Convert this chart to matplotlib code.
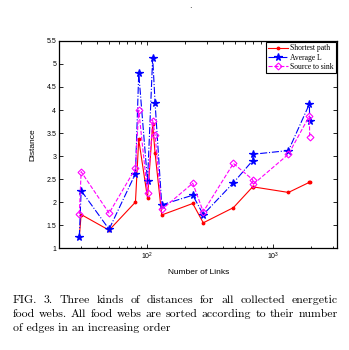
import matplotlib.pyplot as plt
from matplotlib.ticker import LogLocator, NullFormatter, MultipleLocator, FormatStrFormatter

# food webs sorted by number of links
links = [29, 30, 50, 81, 86, 101, 111, 116, 131, 231, 280, 486, 690, 700, 1330, 1950, 1960]
shortest = [1.24, 1.73, 1.39, 2.00, 3.36, 2.09, 3.69, 3.06, 1.72, 1.97, 1.55, 1.88, 2.33, 2.33, 2.21, 2.43, 2.43]
avg_l = [1.24, 2.25, 1.41, 2.62, 4.80, 2.45, 5.14, 4.15, 1.94, 2.15, 1.73, 2.42, 2.90, 3.04, 3.12, 4.13, 3.77]
src_sink = [1.74, 2.66, 1.76, 2.73, 4.00, 2.19, 3.77, 3.46, 1.84, 2.41, 1.79, 2.84, 2.49, 2.39, 3.04, 3.87, 3.42]

caption = ["FIG. 3.  Three kinds of distances for all collected energetic",
           "food webs. All food webs are sorted according to their number",
           "of edges in an increasing order"]

fig = plt.figure(figsize=(3.49, 3.50), dpi=100)
ax = fig.add_axes([0.169, 0.291, 0.7975, 0.592])

ax.plot(links, shortest, '-', color='red', marker='.', ms=3.5, lw=0.8, label='Shortest path')
ax.plot(links, avg_l, '-.', color='blue', marker='*', ms=5.5, mew=0.9, lw=0.8, label='Average L')
ax.plot(links, src_sink, '--', color='magenta', marker='D', ms=3.5, mfc='none', mew=0.8, lw=0.8,
        label='Source to sink')

ax.set_xscale('log')
ax.set_xlim(20, 3250)
ax.set_ylim(1, 5.5)
ax.yaxis.set_major_locator(MultipleLocator(0.5))
ax.yaxis.set_major_formatter(FormatStrFormatter('%g'))
ax.xaxis.set_minor_locator(LogLocator(base=10, subs=range(2, 10)))
ax.xaxis.set_minor_formatter(NullFormatter())

ax.tick_params(which='both', direction='in', top=True, right=True, labelsize=5, width=0.6, pad=2)
ax.tick_params(which='major', length=3)
ax.tick_params(which='minor', length=1.8)
for lab in ax.get_xticklabels() + ax.get_yticklabels():
    lab.set_family('Liberation Sans')
for sp in ax.spines.values():
    sp.set_linewidth(0.9)

ax.set_xlabel('Number of Links', fontsize=6, family='Liberation Sans', labelpad=5)
ax.set_ylabel('Distance', fontsize=6, family='Liberation Sans', labelpad=7)

leg = ax.legend(loc='upper right', prop={'family': 'Liberation Serif', 'size': 5.5},
                fancybox=False, framealpha=1, edgecolor='black', borderpad=0.3,
                handlelength=2.6, handletextpad=0.3, labelspacing=0.15, borderaxespad=0.15)
leg.get_frame().set_linewidth(0.8)

fig.text(0.547, 0.985, '.', fontsize=6, ha='center', va='center')

# caption, first two lines justified between x0 and x1
x0, x1 = 0.036, 0.968
renderer = fig.canvas.get_renderer()
y = 0.134
for i, line in enumerate(caption):
    if i == len(caption) - 1:
        fig.text(x0, y, line, family='cmr10', fontsize=8.5, va='baseline', ha='left')
    else:
        words = line.split(' ')
        words = [w for w in words if w]
        texts = [fig.text(0, y, w, family='cmr10', fontsize=8.5, va='baseline', ha='left') for w in words]
        widths = [t.get_window_extent(renderer).width / fig.bbox.width for t in texts]
        gap = (x1 - x0 - sum(widths)) / (len(words) - 1)
        x = x0
        for t, w in zip(texts, widths):
            t.set_x(x)
            x += w + gap
    y -= 0.04

fig.savefig('out.png', dpi=100)
